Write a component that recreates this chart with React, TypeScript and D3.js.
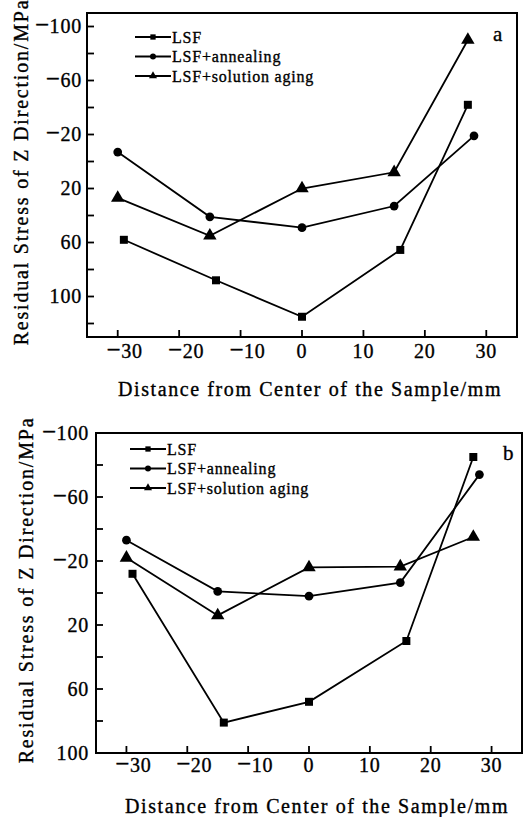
import { useEffect, useRef } from "react";
import * as d3 from "d3";

// series names (same for both panels)
const seriesNames = ["LSF", "LSF+annealing", "LSF+solution aging"];

// shared x ticks
const xTicks = [-30, -20, -10, 0, 10, 20, 30];

// panel a
const aLsfX = [-29, -14, 0, 16, 27];
const aLsfY = [58, 88, 115, 65.5, -42];
const aAnnealX = [-30, -15, 0, 15, 28];
const aAnnealY = [-7, 41, 49, 33, -19];
const aAgingX = [-30, -15, 0, 15, 27];
const aAgingY = [27, 55, 20, 8, -90];
const aYTicks = [-100, -80, -60, -40, -20, 0, 20, 40, 60, 80, 100, 120];
const aYLabels = [-100, -60, -20, 20, 60, 100];

// panel b
const bLsfX = [-29, -14, 0, 16, 27];
const bLsfY = [-12, 81, 68, 30, -85];
const bAnnealX = [-30, -15, 0, 15, 28];
const bAnnealY = [-33, -1, 2, -6.5, -74];
const bAgingX = [-30, -15, 0, 15, 27];
const bAgingY = [-22, 14, -16, -16.5, -35];
const bYTicks = [-100, -80, -60, -40, -20, 0, 20, 40, 60, 80, 100];
const bYLabels = [-100, -60, -20, 20, 60, 100];

const FONT = "'Liberation Serif', 'Times New Roman', serif";
const symbols = [d3.symbolSquare, d3.symbolCircle, d3.symbolTriangle];
const symbolSizes = [64, 60, 78];

// scanned look: text a touch heavier
function ink(sel) {
  sel.attr("fill", "#000").attr("stroke", "#000").attr("stroke-width", 0.35);
}

// tick label: long minus as its own tspan, digits follow
function tickLabel(sel) {
  sel.each(function (d) {
    const t = d3.select(this);
    if (d < 0) {
      t.append("tspan").style("font-size", "25px").style("letter-spacing", "0.5px").text("\u2212");
    }
    t.append("tspan").text(String(Math.abs(d)));
  });
}

function drawPanel(root, p) {
  const g = root.append("g");
  const x = d3.scaleLinear().domain([-35, 35]).range([p.left, p.right]);
  const y = d3.scaleLinear().domain(p.yDomain).range([p.top, p.bottom]);

  // frame
  g.append("rect")
    .attr("x", p.left)
    .attr("y", p.top)
    .attr("width", p.right - p.left)
    .attr("height", p.bottom - p.top)
    .attr("fill", "none")
    .attr("stroke", "#000")
    .attr("stroke-width", 2);

  // y ticks (inward)
  g.append("g")
    .selectAll("line")
    .data(p.yTicks)
    .join("line")
    .attr("x1", p.left)
    .attr("x2", p.left + 7)
    .attr("y1", (d) => y(d))
    .attr("y2", (d) => y(d))
    .attr("stroke", "#000")
    .attr("stroke-width", 1.8);

  g.append("g")
    .selectAll("text")
    .data(p.yLabels)
    .join("text")
    .attr("x", p.left - p.yLabelGap)
    .attr("y", (d) => y(d))
    .attr("dy", "0.34em")
    .attr("text-anchor", "end")
    .style("font-family", FONT)
    .style("font-size", "20px")
    .style("letter-spacing", "0.8px")
    .call(ink)
    .call(tickLabel);

  // x ticks (inward)
  g.append("g")
    .selectAll("line")
    .data(xTicks)
    .join("line")
    .attr("x1", (d) => x(d))
    .attr("x2", (d) => x(d))
    .attr("y1", p.bottom)
    .attr("y2", p.bottom - 7)
    .attr("stroke", "#000")
    .attr("stroke-width", 1.8);

  // digits centred on the tick, minus hangs to the left
  g.append("g")
    .selectAll("text")
    .data(xTicks)
    .join("text")
    .attr("x", (d) => x(d))
    .attr("dx", (d) => (d < 0 ? 7 : 0))
    .attr("y", p.bottom + p.xLabelDy)
    .attr("text-anchor", "middle")
    .style("font-family", FONT)
    .style("font-size", "20px")
    .style("letter-spacing", "0.8px")
    .call(ink)
    .call(tickLabel);

  // titles
  g.append("text")
    .attr("x", (p.left + p.right) / 2 + 8)
    .attr("y", p.xTitleY)
    .attr("text-anchor", "middle")
    .style("font-family", FONT)
    .style("font-size", "20px")
    .style("letter-spacing", "1.6px")
    .call(ink)
    .text("Distance from Center of the Sample/mm");

  g.append("text")
    .attr("transform", `translate(${p.yTitleX}, ${(p.top + p.bottom) / 2 - 3}) rotate(-90)`)
    .attr("text-anchor", "middle")
    .style("font-family", FONT)
    .style("font-size", "20px")
    .style("letter-spacing", "1.8px")
    .call(ink)
    .text("Residual Stress of Z Direction/MPa");

  // series
  const line = d3
    .line()
    .x((d) => x(d[0]))
    .y((d) => y(d[1]));

  p.series.forEach((s, i) => {
    const pts = d3.zip(s.x, s.y);
    g.append("path")
      .datum(pts)
      .attr("d", line)
      .attr("fill", "none")
      .attr("stroke", "#000")
      .attr("stroke-width", 1.8);
    g.append("g")
      .selectAll("path")
      .data(pts)
      .join("path")
      .attr("transform", (d) => `translate(${x(d[0])}, ${y(d[1])})`)
      .attr("d", d3.symbol(symbols[i], symbolSizes[i])())
      .attr("fill", "#000");
  });

  // legend
  const leg = g
    .append("g")
    .selectAll("g")
    .data(seriesNames)
    .join("g")
    .attr("transform", (d, i) => `translate(${p.legendX}, ${p.legendY + i * 19.5})`);
  leg
    .append("line")
    .attr("x1", 0)
    .attr("x2", 36)
    .attr("stroke", "#000")
    .attr("stroke-width", 1.8);
  leg
    .append("path")
    .attr("transform", "translate(18, 0)")
    .attr("d", (d, i) => d3.symbol(symbols[i], 28)())
    .attr("fill", "#000");
  leg
    .append("text")
    .attr("x", 37)
    .attr("dy", "0.35em")
    .style("font-family", FONT)
    .style("font-size", "16px")
    .style("letter-spacing", "0.8px")
    .call(ink)
    .text((d) => d);

  g.append("text")
    .attr("x", p.tagX)
    .attr("y", p.tagY)
    .style("font-family", FONT)
    .style("font-size", "21px")
    .call(ink)
    .text(p.tag);
}

export default function App() {
  const svgRef = useRef(null);

  useEffect(() => {
    const svg = d3.select(svgRef.current);
    svg.selectAll("*").remove();

    drawPanel(svg, {
      left: 87,
      right: 517,
      top: 13,
      bottom: 337,
      yDomain: [-110, 130],
      yTicks: aYTicks,
      yLabels: aYLabels,
      yLabelGap: 5,
      xLabelDy: 21,
      xTitleY: 396,
      yTitleX: 28,
      legendX: 135,
      legendY: 37,
      tag: "a",
      tagX: 493,
      tagY: 41,
      series: [
        { x: aLsfX, y: aLsfY },
        { x: aAnnealX, y: aAnnealY },
        { x: aAgingX, y: aAgingY },
      ],
    });

    drawPanel(svg, {
      left: 96,
      right: 522,
      top: 433,
      bottom: 753,
      yDomain: [-100, 100],
      yTicks: bYTicks,
      yLabels: bYLabels,
      yLabelGap: 7,
      xLabelDy: 19,
      xTitleY: 813,
      yTitleX: 33,
      legendX: 130,
      legendY: 449,
      tag: "b",
      tagX: 503,
      tagY: 460,
      series: [
        { x: bLsfX, y: bLsfY },
        { x: bAnnealX, y: bAnnealY },
        { x: bAgingX, y: bAgingY },
      ],
    });
  }, []);

  return (
    <div style={{ position: "absolute", left: 0, top: 0 }}>
      <svg ref={svgRef} width={529} height={817} style={{ display: "block", background: "#fff" }}></svg>
    </div>
  );
}
